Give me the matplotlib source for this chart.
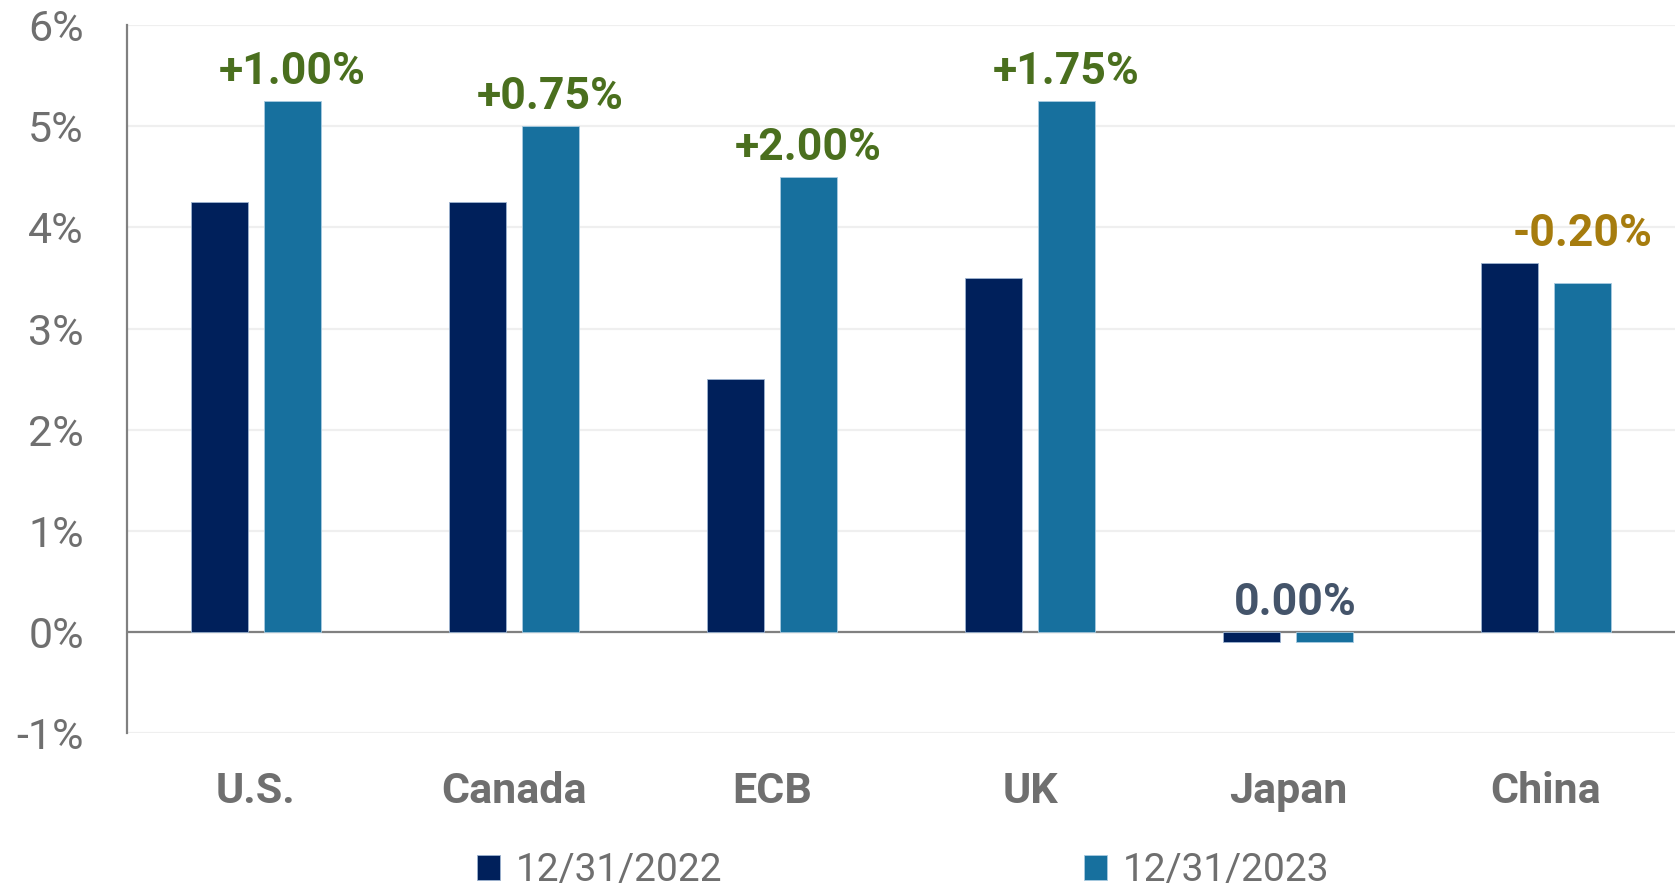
"""
Policy rates by central bank, year-end 2022 vs 2023
"""

import matplotlib
matplotlib.use("Agg")
import matplotlib.pyplot as plt
import numpy as np
from matplotlib.ticker import FuncFormatter

# data
banks = ["U.S.", "Canada", "ECB", "UK", "Japan", "China"]
rate_2022 = [4.25, 4.25, 2.50, 3.50, -0.10, 3.65]
rate_2023 = [5.25, 5.00, 4.50, 5.25, -0.10, 3.45]
change_labels = ["+1.00%", "+0.75%", "+2.00%", "+1.75%", "0.00%", "-0.20%"]
series_names = ["12/31/2022", "12/31/2023"]

# colours
DARK = "#00205B"
LIGHT = "#17709E"
GREEN = "#4A6F1E"
GOLD = "#A67C0E"
SLATE = "#44546A"
GRAY = "#6F6F6F"

plt.rcParams["font.family"] = ["Roboto", "DejaVu Sans"]
plt.rcParams["axes.unicode_minus"] = False

fig = plt.figure(figsize=(16.75, 8.92), dpi=100)
ax = fig.add_axes([0.0758, 0.178, 0.9242, 0.794])

x = np.arange(len(banks))
width = 0.22
off = 0.141

ax.bar(x - off, rate_2022, width, color=DARK, edgecolor="#9db4d0",
       linewidth=0.6, label=series_names[0], zorder=3)
ax.bar(x + off, rate_2023, width, color=LIGHT, edgecolor="#a9cbe0",
       linewidth=0.6, label=series_names[1], zorder=3)

# change labels above each pair
for i, txt in enumerate(change_labels):
    top = max(0, rate_2022[i], rate_2023[i])
    if txt.startswith("+"):
        col = GREEN
    elif txt.startswith("-"):
        col = GOLD
    else:
        col = SLATE
    xpos = i + off if txt != "0.00%" else i + 0.03
    ax.text(xpos, top + 0.17, txt, ha="center", va="baseline",
            fontsize=32, fontweight="bold", color=col, zorder=4)

# axes formatting
ax.set_xlim(-0.5, 5.5)
ax.set_ylim(-1, 6)
ax.set_yticks(range(-1, 7))
ax.yaxis.set_major_formatter(FuncFormatter(lambda v, p: f"{int(v)}%"))
ax.set_xticks(x)
ax.set_xticklabels(banks, fontsize=31, fontweight="bold", color=GRAY)
ax.tick_params(axis="y", length=0, pad=31, labelsize=31, labelcolor=GRAY)
ax.tick_params(axis="x", length=0, pad=27)

ax.grid(axis="y", color="#EFEFEF", linewidth=1.6, zorder=0)
ax.set_axisbelow(True)
for s in ["top", "right", "bottom"]:
    ax.spines[s].set_visible(False)
ax.spines["left"].set_color("#808080")
ax.spines["left"].set_linewidth(1.6)
ax.axhline(0, color="#808080", linewidth=1.6, zorder=2)

# legend at the bottom, two far-apart entries
fig.legend(loc="center", bbox_to_anchor=(0.539, 0.024), ncol=2,
           frameon=False, fontsize=28, labelcolor=GRAY,
           handlelength=0.6, handleheight=0.6, handletextpad=0.4,
           columnspacing=9.3)

fig.savefig("out.png", dpi=100)
